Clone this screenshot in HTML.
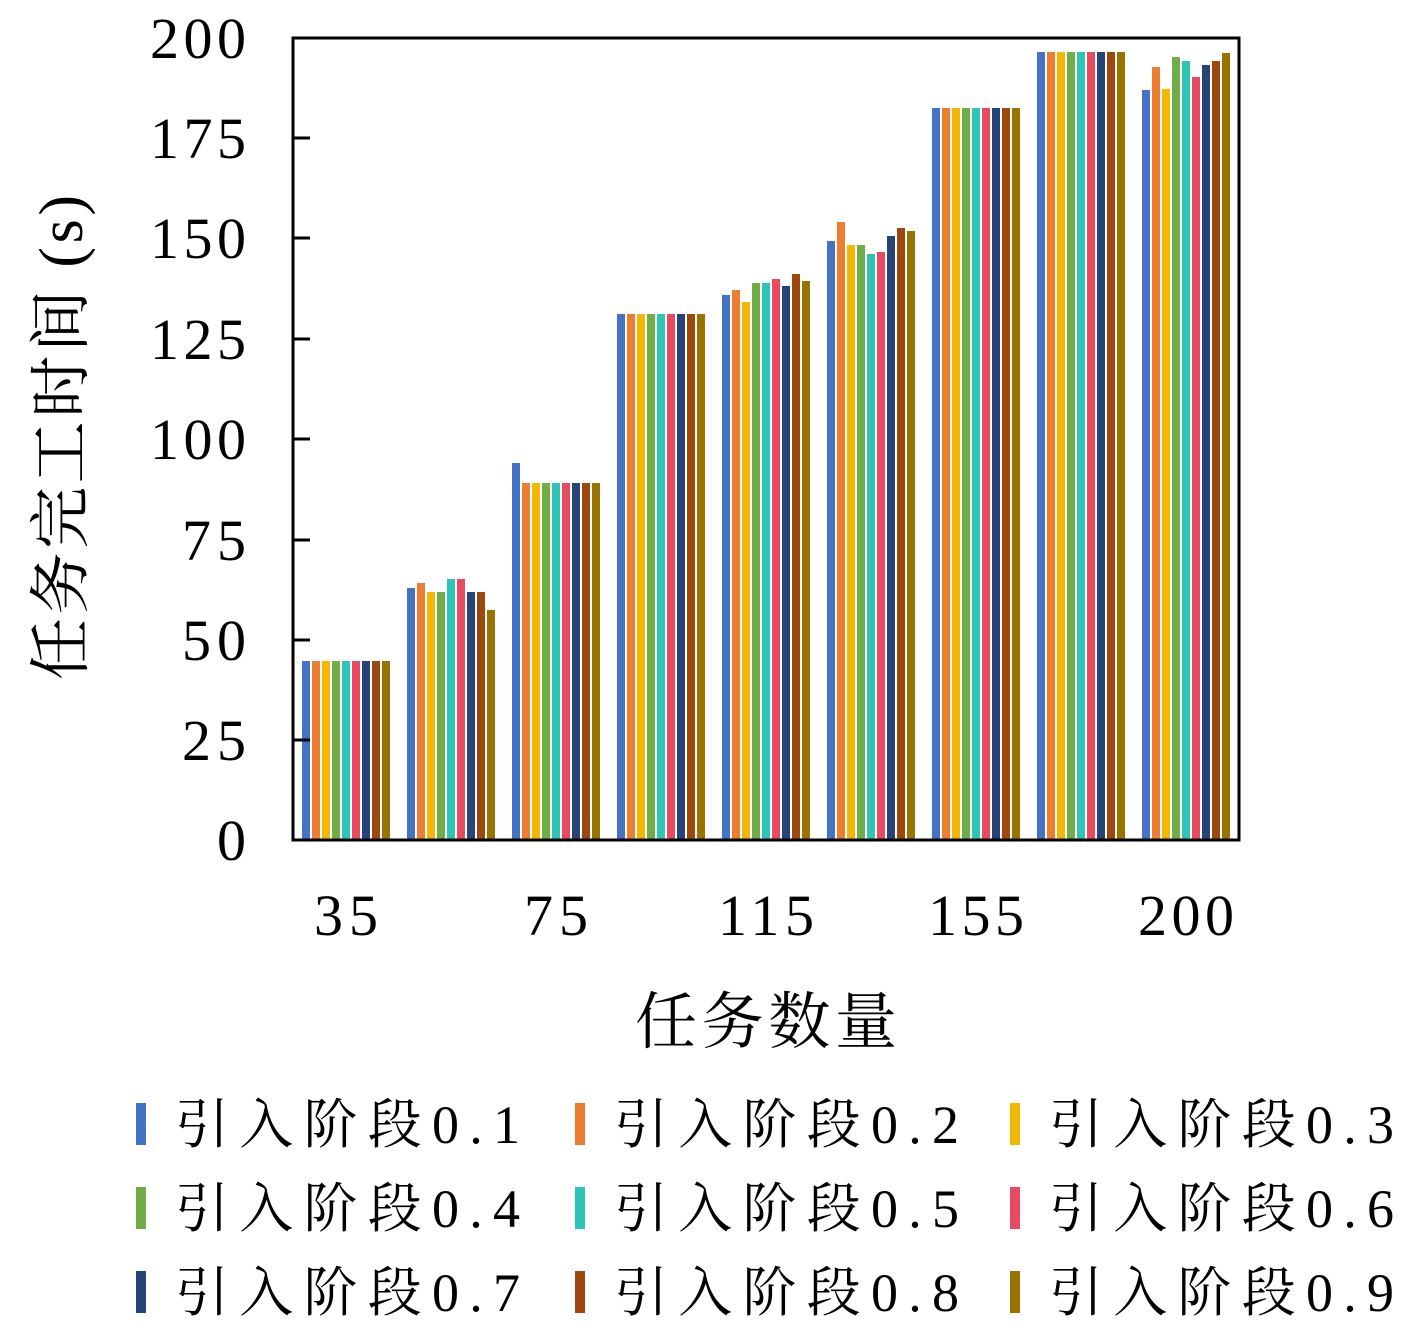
<!DOCTYPE html><html><head><style>body{margin:0;background:#fff}svg text{font-family:"Liberation Serif","Noto Serif CJK SC",serif;fill:#000}</style></head><body>
<svg width="1417" height="1333" xmlns="http://www.w3.org/2000/svg">
<g>
<rect x="302" y="661" width="8" height="179" fill="#4472C4"/><rect x="312" y="661" width="8" height="179" fill="#ED7D31"/><rect x="322" y="661" width="8" height="179" fill="#F2B705"/><rect x="332" y="661" width="8" height="179" fill="#70AD47"/><rect x="342" y="661" width="8" height="179" fill="#2EC4B6"/><rect x="352" y="661" width="8" height="179" fill="#E84A5F"/><rect x="362" y="661" width="8" height="179" fill="#264478"/><rect x="372" y="661" width="8" height="179" fill="#9E480E"/><rect x="382" y="661" width="8" height="179" fill="#997300"/>
<rect x="407" y="588" width="8" height="252" fill="#4472C4"/><rect x="417" y="583" width="8" height="257" fill="#ED7D31"/><rect x="427" y="592" width="8" height="248" fill="#F2B705"/><rect x="437" y="592" width="8" height="248" fill="#70AD47"/><rect x="447" y="579" width="8" height="261" fill="#2EC4B6"/><rect x="457" y="579" width="8" height="261" fill="#E84A5F"/><rect x="467" y="592" width="8" height="248" fill="#264478"/><rect x="477" y="592" width="8" height="248" fill="#9E480E"/><rect x="487" y="610" width="8" height="230" fill="#997300"/>
<rect x="512" y="463" width="8" height="377" fill="#4472C4"/><rect x="522" y="483" width="8" height="357" fill="#ED7D31"/><rect x="532" y="483" width="8" height="357" fill="#F2B705"/><rect x="542" y="483" width="8" height="357" fill="#70AD47"/><rect x="552" y="483" width="8" height="357" fill="#2EC4B6"/><rect x="562" y="483" width="8" height="357" fill="#E84A5F"/><rect x="572" y="483" width="8" height="357" fill="#264478"/><rect x="582" y="483" width="8" height="357" fill="#9E480E"/><rect x="592" y="483" width="8" height="357" fill="#997300"/>
<rect x="617" y="314" width="8" height="526" fill="#4472C4"/><rect x="627" y="314" width="8" height="526" fill="#ED7D31"/><rect x="637" y="314" width="8" height="526" fill="#F2B705"/><rect x="647" y="314" width="8" height="526" fill="#70AD47"/><rect x="657" y="314" width="8" height="526" fill="#2EC4B6"/><rect x="667" y="314" width="8" height="526" fill="#E84A5F"/><rect x="677" y="314" width="8" height="526" fill="#264478"/><rect x="687" y="314" width="8" height="526" fill="#9E480E"/><rect x="697" y="314" width="8" height="526" fill="#997300"/>
<rect x="722" y="295" width="8" height="545" fill="#4472C4"/><rect x="732" y="290" width="8" height="550" fill="#ED7D31"/><rect x="742" y="302" width="8" height="538" fill="#F2B705"/><rect x="752" y="283" width="8" height="557" fill="#70AD47"/><rect x="762" y="283" width="8" height="557" fill="#2EC4B6"/><rect x="772" y="279" width="8" height="561" fill="#E84A5F"/><rect x="782" y="286" width="8" height="554" fill="#264478"/><rect x="792" y="274" width="8" height="566" fill="#9E480E"/><rect x="802" y="281" width="8" height="559" fill="#997300"/>
<rect x="827" y="241" width="8" height="599" fill="#4472C4"/><rect x="837" y="222" width="8" height="618" fill="#ED7D31"/><rect x="847" y="245" width="8" height="595" fill="#F2B705"/><rect x="857" y="245" width="8" height="595" fill="#70AD47"/><rect x="867" y="254" width="8" height="586" fill="#2EC4B6"/><rect x="877" y="252" width="8" height="588" fill="#E84A5F"/><rect x="887" y="236" width="8" height="604" fill="#264478"/><rect x="897" y="228" width="8" height="612" fill="#9E480E"/><rect x="907" y="231" width="8" height="609" fill="#997300"/>
<rect x="932" y="108" width="8" height="732" fill="#4472C4"/><rect x="942" y="108" width="8" height="732" fill="#ED7D31"/><rect x="952" y="108" width="8" height="732" fill="#F2B705"/><rect x="962" y="108" width="8" height="732" fill="#70AD47"/><rect x="972" y="108" width="8" height="732" fill="#2EC4B6"/><rect x="982" y="108" width="8" height="732" fill="#E84A5F"/><rect x="992" y="108" width="8" height="732" fill="#264478"/><rect x="1002" y="108" width="8" height="732" fill="#9E480E"/><rect x="1012" y="108" width="8" height="732" fill="#997300"/>
<rect x="1037" y="52" width="8" height="788" fill="#4472C4"/><rect x="1047" y="52" width="8" height="788" fill="#ED7D31"/><rect x="1057" y="52" width="8" height="788" fill="#F2B705"/><rect x="1067" y="52" width="8" height="788" fill="#70AD47"/><rect x="1077" y="52" width="8" height="788" fill="#2EC4B6"/><rect x="1087" y="52" width="8" height="788" fill="#E84A5F"/><rect x="1097" y="52" width="8" height="788" fill="#264478"/><rect x="1107" y="52" width="8" height="788" fill="#9E480E"/><rect x="1117" y="52" width="8" height="788" fill="#997300"/>
<rect x="1142" y="90" width="8" height="750" fill="#4472C4"/><rect x="1152" y="67" width="8" height="773" fill="#ED7D31"/><rect x="1162" y="89" width="8" height="751" fill="#F2B705"/><rect x="1172" y="57" width="8" height="783" fill="#70AD47"/><rect x="1182" y="61" width="8" height="779" fill="#2EC4B6"/><rect x="1192" y="77" width="8" height="763" fill="#E84A5F"/><rect x="1202" y="65" width="8" height="775" fill="#264478"/><rect x="1212" y="61" width="8" height="779" fill="#9E480E"/><rect x="1222" y="53" width="8" height="787" fill="#997300"/>
</g>
<rect x="293" y="38" width="946" height="802" fill="none" stroke="#000" stroke-width="3"/>
<g stroke="#000" stroke-width="3">
<line x1="293" y1="740" x2="310" y2="740"/><line x1="293" y1="640" x2="310" y2="640"/><line x1="293" y1="540" x2="310" y2="540"/><line x1="293" y1="439" x2="310" y2="439"/><line x1="293" y1="339" x2="310" y2="339"/><line x1="293" y1="238" x2="310" y2="238"/><line x1="293" y1="138" x2="310" y2="138"/>
</g>
<g font-size="58" text-anchor="end">
<text x="246" y="860">0</text><text x="246" y="760" textLength="64">25</text><text x="246" y="660" textLength="64">50</text><text x="246" y="560" textLength="64">75</text><text x="246" y="459" textLength="96">100</text><text x="246" y="359" textLength="96">125</text><text x="246" y="258" textLength="96">150</text><text x="246" y="158" textLength="96">175</text><text x="246" y="58" textLength="96">200</text>
</g>
<g font-size="58">
<text x="314" y="935" textLength="64">35</text><text x="524" y="935" textLength="64">75</text><text x="718" y="935" textLength="96">115</text><text x="928" y="935" textLength="96">155</text><text x="1138" y="935" textLength="96">200</text>
<text x="635" y="1043" font-size="62" textLength="262">任务数量</text>
</g>
<text transform="translate(82,680) rotate(-90)" font-size="62" textLength="485">任务完工时间 (s)</text>
<g font-size="54">
<rect x="136" y="1103" width="10" height="42" fill="#4472C4"/><text x="175" y="1143" textLength="345">引入阶段0.1</text>
<rect x="575" y="1103" width="10" height="42" fill="#ED7D31"/><text x="614" y="1143" textLength="345">引入阶段0.2</text>
<rect x="1010" y="1103" width="10" height="42" fill="#F2B705"/><text x="1049" y="1143" textLength="345">引入阶段0.3</text>
<rect x="136" y="1187" width="10" height="42" fill="#70AD47"/><text x="175" y="1227" textLength="345">引入阶段0.4</text>
<rect x="575" y="1187" width="10" height="42" fill="#2EC4B6"/><text x="614" y="1227" textLength="345">引入阶段0.5</text>
<rect x="1010" y="1187" width="10" height="42" fill="#E84A5F"/><text x="1049" y="1227" textLength="345">引入阶段0.6</text>
<rect x="136" y="1271" width="10" height="42" fill="#264478"/><text x="175" y="1311" textLength="345">引入阶段0.7</text>
<rect x="575" y="1271" width="10" height="42" fill="#9E480E"/><text x="614" y="1311" textLength="345">引入阶段0.8</text>
<rect x="1010" y="1271" width="10" height="42" fill="#997300"/><text x="1049" y="1311" textLength="345">引入阶段0.9</text>
</g>
</svg></body></html>
